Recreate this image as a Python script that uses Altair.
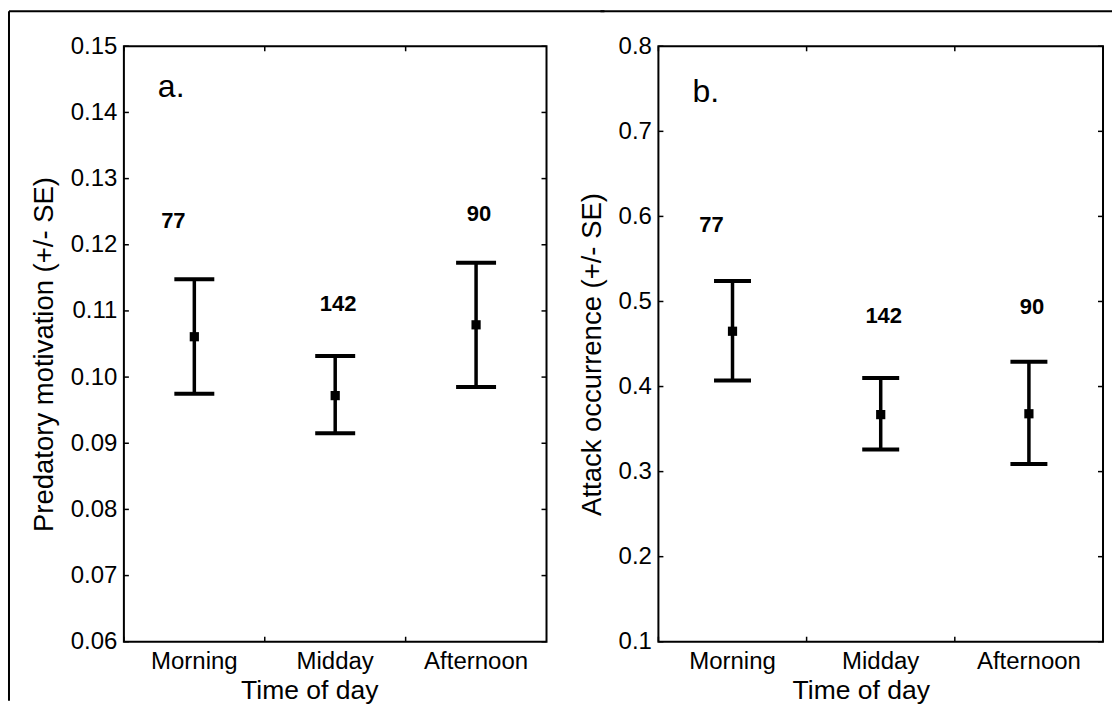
import altair as alt
import pandas as pd

# Shared categories and sample sizes
times = ["Morning", "Midday", "Afternoon"]
n_obs = [77, 142, 90]

# Panel a: predatory motivation, mean and +/- SE limits
motiv_mean = [0.1061, 0.0972, 0.1079]
motiv_low = [0.0975, 0.0915, 0.0985]
motiv_high = [0.1148, 0.1032, 0.1173]
motiv_label_y = [0.1236, 0.1110, 0.1246]
motiv_ticks = [0.06, 0.07, 0.08, 0.09, 0.10, 0.11, 0.12, 0.13, 0.14, 0.15]

# Panel b: attack occurrence, mean and +/- SE limits
attack_mean = [0.465, 0.367, 0.368]
attack_low = [0.407, 0.326, 0.309]
attack_high = [0.524, 0.410, 0.429]
attack_label_y = [0.590, 0.483, 0.493]
attack_ticks = [0.1, 0.2, 0.3, 0.4, 0.5, 0.6, 0.7, 0.8]

FONT = "Liberation Sans, Arial, Helvetica, sans-serif"
HEIGHT = 596
GAP = 112


def panel(mean, low, high, label_y, ticks, fmt, ytitle, letter,
          width, cap, frame_left, top_from, top_to, letter_y, xtitle_shift):
    df = pd.DataFrame({"time": times, "n": n_obs, "mean": mean,
                       "low": low, "high": high, "label_y": label_y})
    xscale = alt.Scale(domain=times, paddingInner=0, paddingOuter=0)
    yscale = alt.Scale(domain=[ticks[0], ticks[-1]], nice=False, zero=False)

    xaxis = alt.Axis(title="Time of day", labelAngle=0, ticks=False,
                     domain=False, labelPadding=8, titlePadding=4,
                     labelFontSize=24, titleFontSize=26.5,
                     titleX=width / 2 + xtitle_shift)
    yaxis = alt.Axis(values=ticks, format=fmt, title=ytitle,
                     grid=False, ticks=False, domain=False,
                     labelPadding=7, titlePadding=12,
                     labelFontSize=24, titleFontSize=27.5,
                     titleY=HEIGHT / 2 + 10)

    def xe(**kw):
        return alt.X("time:N", sort=times, scale=xscale, axis=xaxis, **kw)

    def ye(field):
        return alt.Y(field, type="quantitative", scale=yscale, axis=yaxis)

    base = alt.Chart(df)

    whisker = base.mark_rule(color="black", strokeWidth=3.5).encode(
        x=xe(), y=ye("low"), y2="high:Q")
    cap_hi = base.mark_tick(color="black", thickness=4, size=cap,
                            opacity=1).encode(x=xe(), y=ye("high"))
    cap_lo = base.mark_tick(color="black", thickness=4, size=cap,
                            opacity=1).encode(x=xe(), y=ye("low"))
    centre = base.mark_square(color="black", size=85, opacity=1).encode(
        x=xe(), y=ye("mean"))

    n_first = base.transform_filter(alt.datum.time == "Morning").mark_text(
        font=FONT, fontSize=22, fontWeight="bold", color="black", dx=-21
    ).encode(x=xe(), y=ye("label_y"), text="n:Q")
    n_rest = base.transform_filter(alt.datum.time != "Morning").mark_text(
        font=FONT, fontSize=22, fontWeight="bold", color="black", dx=3
    ).encode(x=xe(), y=ye("label_y"), text="n:Q")

    # small inward ticks on the left/right frame and between categories
    tick_df = pd.DataFrame({"tick": ticks})
    ytick_l = alt.Chart(tick_df).mark_rule(color="black", strokeWidth=1.5).encode(
        y=ye("tick"), x=alt.value(0), x2=alt.value(5))
    ytick_r = alt.Chart(tick_df).mark_rule(color="black", strokeWidth=1.5).encode(
        y=ye("tick"), x=alt.value(width - 5), x2=alt.value(width))
    xtick_b = base.mark_rule(color="black", strokeWidth=1.5).encode(
        x=xe(bandPosition=0), y=alt.value(HEIGHT - 5), y2=alt.value(HEIGHT))
    xtick_t = base.mark_rule(color="black", strokeWidth=1.5).encode(
        x=xe(bandPosition=0), y=alt.value(0), y2=alt.value(5))

    one = pd.DataFrame({"letter": [letter]})
    tag = alt.Chart(one).mark_text(
        font=FONT, fontSize=32, align="left", baseline="alphabetic",
        color="black"
    ).encode(text="letter:N", x=alt.value(34), y=alt.value(letter_y))

    layers = [whisker, cap_hi, cap_lo, centre, n_first, n_rest,
              ytick_l, ytick_r, xtick_b, xtick_t, tag]

    # figure frame: top line, plus the left line on the first panel
    top_line = alt.Chart(one).mark_rule(color="black", strokeWidth=2).encode(
        x=alt.value(top_from), x2=alt.value(top_to), y=alt.value(-35))
    layers.append(top_line)
    if frame_left is not None:
        left_line = alt.Chart(one).mark_rule(color="black", strokeWidth=2).encode(
            x=alt.value(frame_left), y=alt.value(-35), y2=alt.value(655))
        layers.append(left_line)

    return alt.layer(*layers).properties(width=width, height=HEIGHT)


panel_a = panel(motiv_mean, motiv_low, motiv_high, motiv_label_y, motiv_ticks,
                ".2f", "Predatory motivation (+/- SE)", "a.",
                423, 40, -115, -115, 423 + GAP / 2 + 2, 51, -26)
panel_b = panel(attack_mean, attack_low, attack_high, attack_label_y,
                attack_ticks, ".1f", "Attack occurrence (+/- SE)", "b.",
                445, 37, None, -GAP / 2 - 2, 454, 56, -20)

chart = (
    alt.hconcat(panel_a, panel_b, spacing=GAP, bounds="flush")
    .properties(padding={"left": 7, "top": 9, "right": 0, "bottom": 0},
                background="white")
    .configure_view(stroke="black", strokeWidth=2)
    .configure_axis(labelFont=FONT, titleFont=FONT, labelColor="black",
                    titleColor="black", titleFontWeight="normal")
)

chart.save("out.html", embed_options={"renderer": "svg", "actions": False})
